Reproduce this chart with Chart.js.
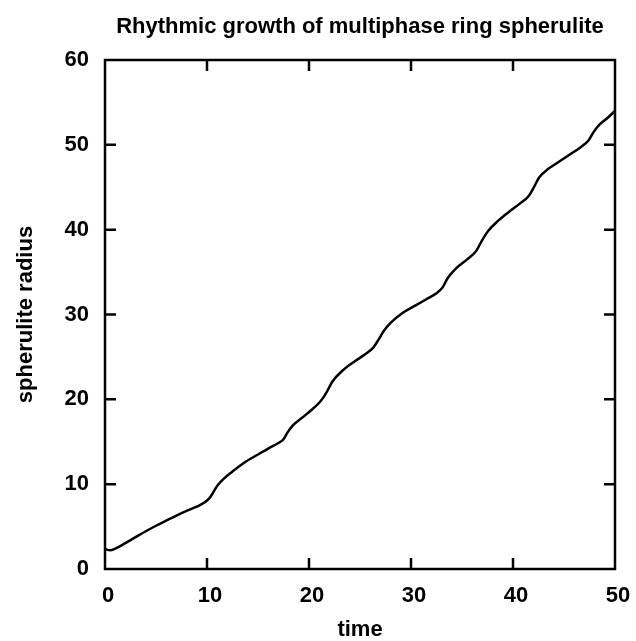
<!DOCTYPE html>
<html lang="en">

<head>
    <meta charset="UTF-8">
    <script src="https://cdn.jsdelivr.net/npm/chart.js@4.4.0/dist/chart.umd.min.js"></script>
    <title>spherulite growth</title>
    <style>
        body { margin: 0; background: #fff; }
    </style>
</head>

<body>
    <canvas id="growthChart" width="636" height="641"></canvas>
    <script>
        // time axis and ring radius
        const times = [0, 0.5, 1, 2, 3, 4, 5, 6, 7, 8, 9, 9.7, 10.2, 10.6, 11.0, 11.6, 12.5, 13.6, 15, 16,
            17, 17.5, 17.9, 18.4, 19.4, 20.3, 21.0, 21.4, 21.8, 22.3, 23.3, 24.5, 25.5, 26.3, 26.8, 27.3,
            28.0, 29.2, 30.5, 31.5, 32.5, 33.1, 33.6, 34.3, 35.5, 36.4, 36.9, 37.6, 38.5, 39.5, 40.7, 41.5,
            42.0, 42.6, 43.5, 44.5, 45.5, 46.6, 47.4, 47.9, 48.5, 49.2, 50];
        const radius = [2.35, 2.2, 2.4, 3.05, 3.75, 4.45, 5.1, 5.7, 6.3, 6.85, 7.35, 7.8, 8.3, 9.0, 9.8, 10.6, 11.5, 12.5, 13.5, 14.2,
            14.85, 15.3, 16.1, 16.9, 17.9, 18.8, 19.6, 20.2, 21.0, 22.1, 23.4, 24.5, 25.3, 26.1, 27.0, 28.0,
            29.0, 30.2, 31.1, 31.8, 32.5, 33.2, 34.3, 35.3, 36.5, 37.5, 38.6, 39.9, 41.0, 42.0, 43.1, 43.9,
            44.9, 46.2, 47.2, 48.0, 48.8, 49.7, 50.5, 51.5, 52.4, 53.1, 54.0];
        const xTicks = [0, 10, 20, 30, 40, 50];
        const yTicks = [0, 10, 20, 30, 40, 50, 60];

        const points = times.map((t, i) => ({ x: t, y: radius[i] }));
        const font = 'Liberation Sans, Arial, Helvetica, sans-serif';

        // frame round the plot plus short inward ticks on all four sides
        const frameTicks = {
            id: 'frameTicks',
            afterDraw(chart) {
                const { ctx, chartArea: a, scales } = chart;
                const len = 11;
                ctx.save();
                ctx.strokeStyle = '#000';
                ctx.lineWidth = 2.5;
                ctx.strokeRect(a.left, a.top, a.right - a.left, a.bottom - a.top);
                ctx.beginPath();
                xTicks.slice(1, -1).forEach(v => {
                    const px = scales.x.getPixelForValue(v);
                    ctx.moveTo(px, a.bottom); ctx.lineTo(px, a.bottom - len);
                    ctx.moveTo(px, a.top); ctx.lineTo(px, a.top + len);
                });
                yTicks.slice(1, -1).forEach(v => {
                    const py = scales.y.getPixelForValue(v);
                    ctx.moveTo(a.left, py); ctx.lineTo(a.left + len, py);
                    ctx.moveTo(a.right, py); ctx.lineTo(a.right - len, py);
                });
                ctx.stroke();
                ctx.restore();
            }
        };

        const ctx = document.getElementById('growthChart').getContext('2d');
        const growthChart = new Chart(ctx, {
            type: 'line',
            data: {
                datasets: [{
                    data: points,
                    borderColor: '#000',
                    borderWidth: 2.5,
                    pointRadius: 0,
                    cubicInterpolationMode: 'monotone',
                    fill: false
                }]
            },
            options: {
                responsive: false,
                animation: false,
                layout: { padding: { left: 0, right: 21, top: 0, bottom: 0 } },
                plugins: {
                    legend: { display: false },
                    tooltip: { enabled: false },
                    title: {
                        display: true,
                        fullSize: false,
                        text: 'Rhythmic growth of multiphase ring spherulite',
                        color: '#000',
                        font: { family: font, size: 22, weight: 'bold' },
                        padding: { top: 13.8, bottom: 19.8 }
                    }
                },
                scales: {
                    x: {
                        type: 'linear',
                        min: 0,
                        max: 50,
                        afterFit(scale) { scale.height = 72; },
                        afterBuildTicks(scale) { scale.ticks = xTicks.map(v => ({ value: v })); },
                        grid: { display: false },
                        border: { display: false },
                        ticks: {
                            color: '#000', padding: 6, labelOffset: 3,
                            font: { family: font, size: 22, weight: 'bold' }
                        },
                        title: {
                            display: true,
                            text: 'time',
                            color: '#000',
                            font: { family: font, size: 22, weight: 'bold' },
                            padding: { top: 0, bottom: -2.5 }
                        }
                    },
                    y: {
                        min: 0,
                        max: 60,
                        afterFit(scale) { scale.width = 105; },
                        afterBuildTicks(scale) { scale.ticks = yTicks.map(v => ({ value: v })); },
                        grid: { display: false },
                        border: { display: false },
                        ticks: { color: '#000', padding: 8, font: { family: font, size: 22, weight: 'bold' } },
                        title: {
                            display: true,
                            text: 'spherulite radius',
                            color: '#000',
                            font: { family: font, size: 22, weight: 'bold' },
                            padding: { top: 13, bottom: 4 }
                        }
                    }
                }
            },
            plugins: [frameTicks]
        });
    </script>

</body>

</html>
